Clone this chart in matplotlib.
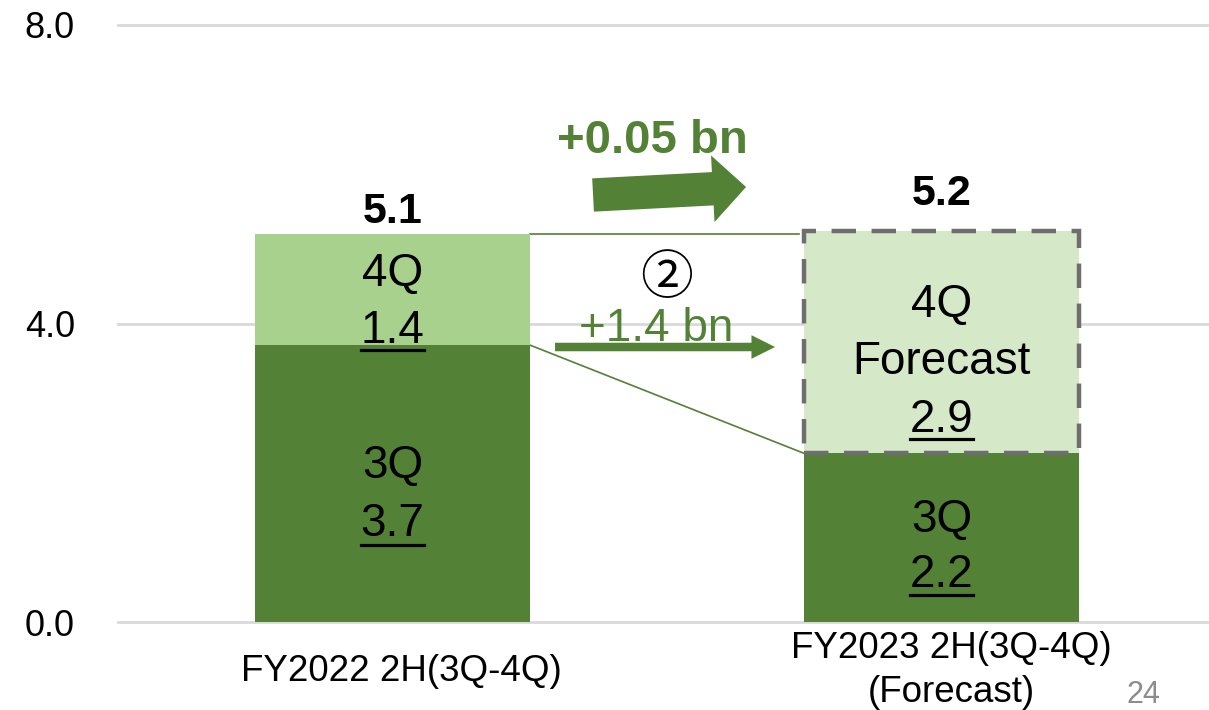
import matplotlib
matplotlib.use("Agg")
import matplotlib.pyplot as plt
from matplotlib.lines import Line2D

plt.rcParams["font.family"] = ["Liberation Sans", "Noto Sans CJK JP", "DejaVu Sans"]

# data
categories = ["FY2022 2H(3Q-4Q)", "FY2023 2H(3Q-4Q)\n(Forecast)"]
q3_values = [3.71, 2.26]
q4_values = [1.49, 2.98]
q3_labels = ["3.7", "2.2"]
q4_labels = ["1.4", "2.9"]
total_labels = ["5.1", "5.2"]
yticks = [0.0, 4.0, 8.0]

dark_green = "#538135"
light_green = "#a9d18e"
pale_green = "#d5e8c8"

W, H = 1209, 710
fig = plt.figure(figsize=(W / 100, H / 100), dpi=100)
ax = fig.add_axes([118 / W, (H - 622) / H, (W - 118) / W, 597 / H])
ax.set_xlim(-0.5, 1.487)
ax.set_ylim(0, 8)

# pixel helpers (reference is 1209x710, y from top)
def px(x):
    return (x - 392.5) / 549.0

def py(y):
    return (622 - y) / 74.625

for t in yticks:
    ax.axhline(t, color="#d9d9d9", lw=2, zorder=0, clip_on=False)

xs = [0, 1]
bw = 0.501
ax.bar(xs, q3_values, width=bw, color=dark_green, zorder=2)
ax.bar(xs[0], q4_values[0], bottom=q3_values[0], width=bw, color=light_green, zorder=2)
ax.bar(xs[1], q4_values[1], bottom=q3_values[1], width=bw, color=pale_green,
       edgecolor="#6e6e6e", linewidth=3.2, linestyle=(0, (5.5, 3.5)), zorder=3)

# connector lines
tot0 = q3_values[0] + q4_values[0]
ax.plot([bw / 2, 1 - bw / 2 - 0.01], [tot0, tot0], color=dark_green, lw=1.2, zorder=1)
ax.plot([bw / 2, 1 - bw / 2], [q3_values[0], q3_values[1]], color=dark_green, lw=1.2, zorder=1)

ax.set_yticks(yticks)
ax.set_yticklabels([f"{v:.1f}" for v in yticks], fontsize=26)
ax.tick_params(axis="y", length=0, pad=31)
ax.set_xticks([])
for s in ax.spines.values():
    s.set_visible(False)

# category labels
ax.text(px(401), py(681), categories[0], ha="center", va="baseline", fontsize=26.5, clip_on=False)
ax.text(px(951), py(658), categories[1].split("\n")[0], ha="center", va="baseline", fontsize=26.5, clip_on=False)
ax.text(px(951), py(702), categories[1].split("\n")[1], ha="center", va="baseline", fontsize=26.5, clip_on=False)
ax.text(px(1143), py(703), "24", ha="center", va="baseline", fontsize=22, color="#8c8c8c", clip_on=False)

# in-bar labels
underlined = []
ax.text(xs[0], py(286), "4Q", ha="center", va="baseline", fontsize=33, zorder=5)
underlined.append((ax.text(xs[0], py(343), q4_labels[0], ha="center", va="baseline", fontsize=33, zorder=5), 350))
ax.text(xs[0], py(478), "3Q", ha="center", va="baseline", fontsize=33, zorder=5)
underlined.append((ax.text(xs[0], py(536), q3_labels[0], ha="center", va="baseline", fontsize=33, zorder=5), 545))
ax.text(xs[1], py(317), "4Q", ha="center", va="baseline", fontsize=33, zorder=5)
ax.text(xs[1], py(374), "Forecast", ha="center", va="baseline", fontsize=33, zorder=5)
underlined.append((ax.text(xs[1], py(432), q4_labels[1], ha="center", va="baseline", fontsize=33, zorder=5), 439))
ax.text(xs[1], py(532), "3Q", ha="center", va="baseline", fontsize=33, zorder=5)
underlined.append((ax.text(xs[1], py(587), q3_labels[1], ha="center", va="baseline", fontsize=33, zorder=5), 595))

ax.text(xs[0], py(223), total_labels[0], ha="center", va="baseline", fontsize=31, fontweight="bold")
ax.text(xs[1], py(205), total_labels[1], ha="center", va="baseline", fontsize=31, fontweight="bold")

# arrows and change labels
ax.annotate("", xy=(px(746), py(187)), xytext=(px(593), py(195)),
            arrowprops=dict(arrowstyle="simple,head_length=1.0,head_width=2.0,tail_width=1.0",
                            color=dark_green, mutation_scale=24, shrinkA=0, shrinkB=0, lw=0))
ax.text(px(652), py(153), "+0.05 bn", ha="center", va="baseline", fontsize=34,
        fontweight="bold", color=dark_green)
ax.annotate("", xy=(px(775), py(347)), xytext=(px(555), py(347)),
            arrowprops=dict(arrowstyle="simple,head_length=1.0,head_width=1.0,tail_width=0.36",
                            color=dark_green, mutation_scale=17, shrinkA=0, shrinkB=0, lw=0))
ax.text(px(656), py(341), "+1.4 bn", ha="center", va="baseline", fontsize=33, color=dark_green)
ax.text(px(666), py(278), "②", ha="center", va="center", fontsize=38,
        family=["Noto Sans CJK JP", "DejaVu Sans"])

# underlines under the quarter values
fig.canvas.draw()
r = fig.canvas.get_renderer()
for t, uy in underlined:
    bb = t.get_window_extent(r)
    yf = (H - uy) / H
    fig.add_artist(Line2D([bb.x0 / W, bb.x1 / W], [yf, yf], color="black", lw=2.3,
                          transform=fig.transFigure, zorder=6))

fig.savefig("out.png", dpi=100)
